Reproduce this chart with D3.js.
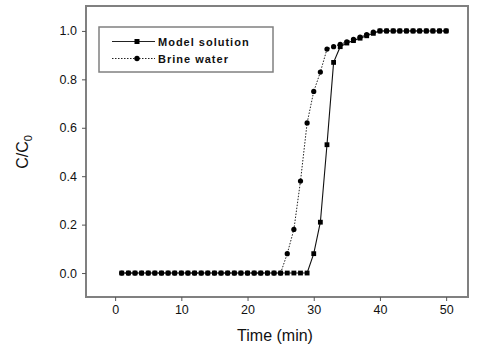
<!DOCTYPE html>
<html><head><meta charset="utf-8">
<script src="https://cdn.jsdelivr.net/npm/d3@7"></script>
<style>body{margin:0;background:#fff}svg{display:block}text{font-family:Arial,"Liberation Sans",sans-serif}</style>
</head><body><svg id="c" width="478" height="350"></svg>
<script>
const time = d3.range(1, 51);
const modelValues = [0,0,0,0,0,0,0,0,0,0, 0,0,0,0,0,0,0,0,0,0, 0,0,0,0,0,0,0,0,0,0.08, 0.21,0.53,0.87,0.935,0.95,0.96,0.97,0.98,0.99,1.0, 1,1,1,1,1,1,1,1,1,1];
const brineValues = [0,0,0,0,0,0,0,0,0,0, 0,0,0,0,0,0,0,0,0,0, 0,0,0,0,0,0.08,0.18,0.38,0.62,0.75, 0.83,0.925,0.935,0.945,0.955,0.965,0.975,0.985,0.995,1.0, 1,1,1,1,1,1,1,1,1,1];
const xTicks = [0,10,20,30,40,50];
const yTicks = [0,0.2,0.4,0.6,0.8,1.0];
const seriesNames = ["Model solution","Brine water"];

const svg = d3.select("#c");
const L=86,R=468,T=6,B=297;
const x = d3.scaleLinear().domain([-4.4,53.3]).range([L,R]);
const y = d3.scaleLinear().domain([-0.099,1.103]).range([B,T]);

// frame
svg.append("rect").attr("x",L).attr("y",T).attr("width",R-L).attr("height",B-T)
  .attr("fill","none").attr("stroke","#808080").attr("stroke-width",2);

const xa = svg.append("g").attr("transform",`translate(0,${B})`)
  .call(d3.axisBottom(x).tickValues(xTicks).tickSize(4).tickPadding(4).tickFormat(d3.format("d")));
const ya = svg.append("g").attr("transform",`translate(${L},0)`)
  .call(d3.axisLeft(y).tickValues(yTicks).tickSize(4).tickPadding(5).tickFormat(d3.format(".1f")));
[xa,ya].forEach(a=>{a.select(".domain").remove();
  a.selectAll("line").attr("stroke","#555");
  a.selectAll("text").attr("font-size",12.5).attr("fill","#111");});

// lines
const mk = vals => time.map((t,i)=>({t,v:vals[i]}));
const line = d3.line().x(d=>x(d.t)).y(d=>y(d.v));
const model = mk(modelValues), brine = mk(brineValues);
svg.append("path").datum(brine).attr("d",line).attr("fill","none").attr("stroke","#222").attr("stroke-width",1).attr("stroke-dasharray","1.5,1.5");
svg.append("path").datum(model).attr("d",line).attr("fill","none").attr("stroke","#111").attr("stroke-width",1.1);
svg.append("g").selectAll("circle").data(brine).join("circle")
  .attr("cx",d=>x(d.t)).attr("cy",d=>y(d.v)).attr("r",2.6).attr("fill","#000");
svg.append("g").selectAll("rect").data(model).join("rect")
  .attr("x",d=>x(d.t)-2.4).attr("y",d=>y(d.v)-2.4).attr("width",4.8).attr("height",4.8).attr("fill","#000");

// legend
const lg = svg.append("g");
lg.append("rect").attr("x",99).attr("y",27).attr("width",174).attr("height",45)
  .attr("fill","#fff").attr("stroke","#808080").attr("stroke-width",1.5);
[0,1].forEach(i=>{
  const yy = i===0?41.5:58.5;
  lg.append("line").attr("x1",112).attr("x2",155).attr("y1",yy).attr("y2",yy)
    .attr("stroke","#222").attr("stroke-width",1).attr("stroke-dasharray",i===0?null:"1.5,1.5");
  if(i===0) lg.append("rect").attr("x",134.5).attr("y",yy-2.5).attr("width",5).attr("height",5).attr("fill","#000");
  else lg.append("circle").attr("cx",137).attr("cy",yy).attr("r",2.7).attr("fill","#000");
  lg.append("text").attr("x",158).attr("y",yy+4).attr("font-size",11).attr("font-weight","bold")
    .attr("letter-spacing",1).attr("fill","#111").text(seriesNames[i]);
});

// titles
svg.append("text").attr("x",(L+R)/2-2).attr("y",341).attr("text-anchor","middle").attr("font-size",16).attr("fill","#111").text("Time (min)");
const yt = svg.append("text").attr("transform","translate(28,152) rotate(-90)").attr("text-anchor","middle").attr("font-size",16).attr("fill","#111");
yt.append("tspan").text("C/C");
yt.append("tspan").attr("font-size",11).attr("dy",4).text("0");
</script></body></html>
